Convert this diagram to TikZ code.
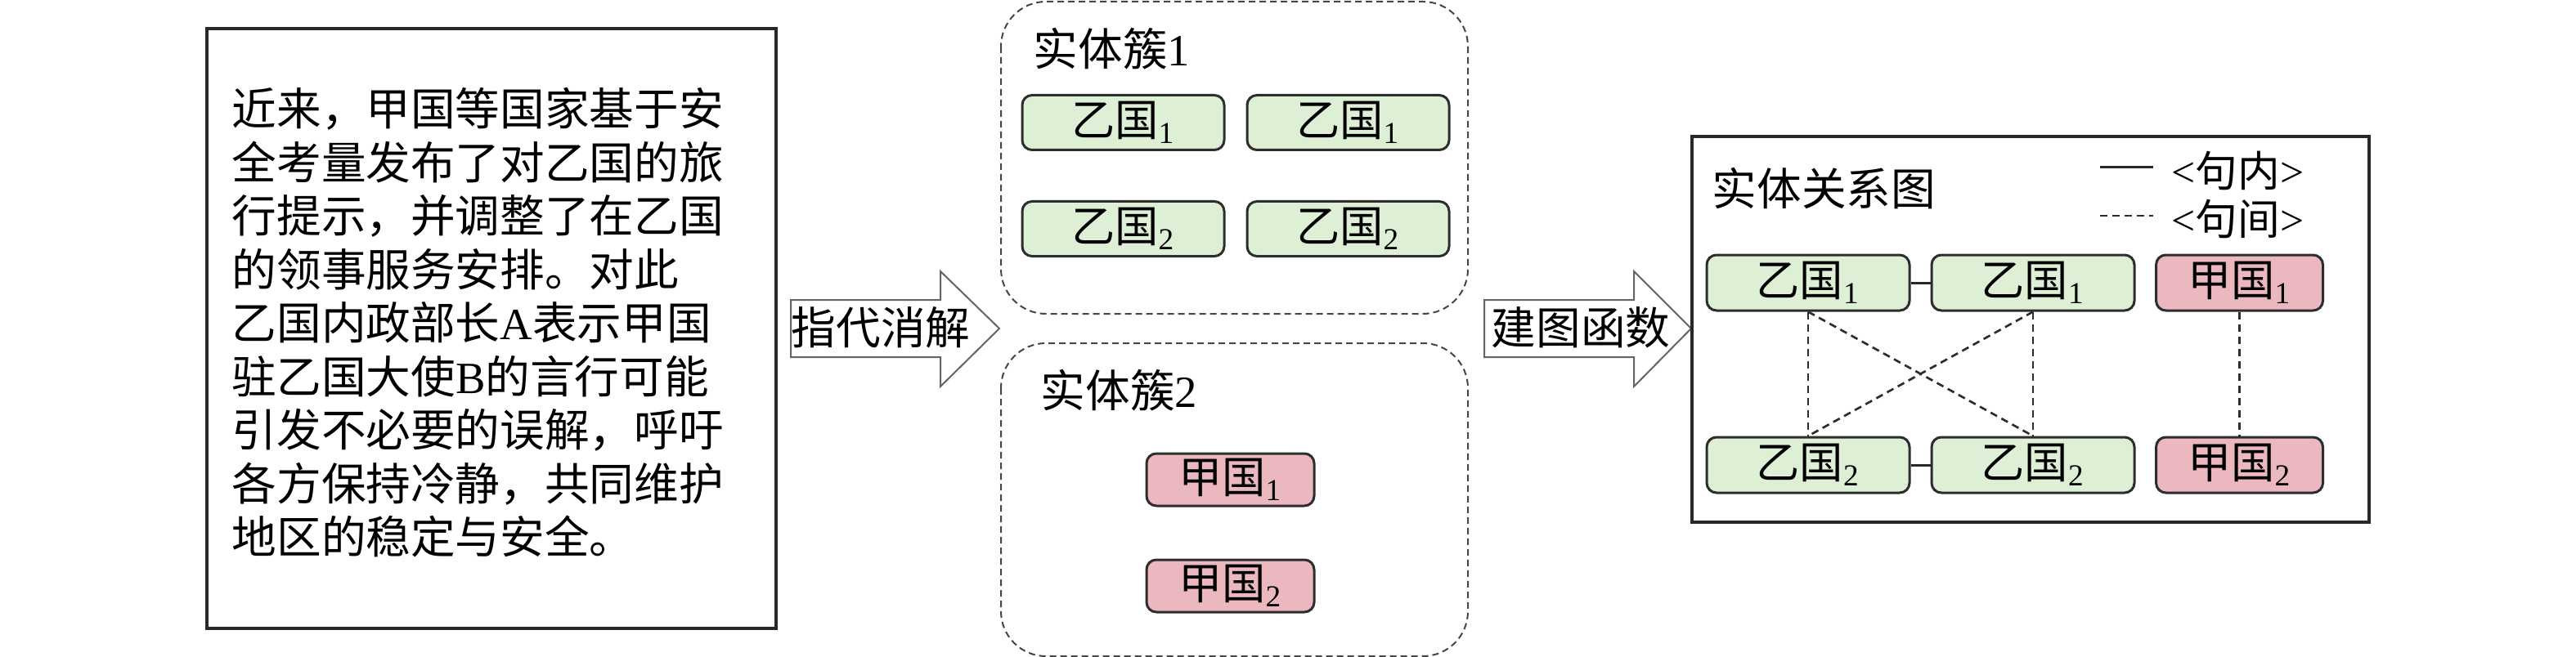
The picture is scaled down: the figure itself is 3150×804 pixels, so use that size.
\documentclass[tikz,border=0pt]{standalone}
\usepackage{fontspec}
\setmainfont{Noto Sans CJK SC}
\newfontfamily\tms{Liberation Serif}
\newcommand{\entlbl}[2]{#1\textsubscript{\tms #2}}
\tikzset{
	box line/.style={draw={rgb, 255:red, 40; green, 40; blue, 40 }, line width=1.2pt},
	cluster line/.style={draw={rgb, 255:red, 70; green, 70; blue, 70 }, line width=0.6pt, dash pattern=on 2.4pt off 1.5pt, rounded corners=16.5pt},
	big arrow/.style={draw={rgb, 255:red, 100; green, 100; blue, 100 }, line width=0.6pt, fill=white},
	body text/.style={font=\fontsize{16.4}{19.65}\selectfont, inner sep=0pt},
	legend text/.style={font=\fontsize{15.5}{17}\selectfont, inner sep=0pt},
	ent yi/.style={draw={rgb, 255:red, 45; green, 45; blue, 45 }, line width=0.9pt, rounded corners=3.6pt, fill={rgb, 255:red, 221; green, 239; blue, 213 }, minimum width=74.1pt, minimum height=20.1pt, inner sep=0pt, font=\fontsize{16}{18}\selectfont},
	ent jia/.style={ent yi, fill={rgb, 255:red, 234; green, 184; blue, 190 }, minimum width=61.5pt, minimum height=19.2pt},
	intra/.style={draw={rgb, 255:red, 40; green, 40; blue, 40 }, line width=0.9pt},
	inter/.style={draw={rgb, 255:red, 45; green, 45; blue, 45 }, line width=0.8pt, dash pattern=on 2.7pt off 1.8pt}
}

\begin{document}
\begin{tikzpicture}[x=0.3pt,y=0.3pt,yscale=-1,xscale=1]
	\useasboundingbox (0,0) rectangle (3150,804);

	%Shape: Rectangle [source text]
	\draw [box line] (253,35) rectangle (949,769);
	% Text Node
	\draw (283,395) node [body text, anchor=west, align=left] (story) {近来，甲国等国家基于安\\全考量发布了对乙国的旅\\行提示，并调整了在乙国\\的领事服务安排。对此\\乙国内政部长{\tms A}表示甲国\\驻乙国大使{\tms B}的言行可能\\引发不必要的误解，呼吁\\各方保持冷静，共同维护\\地区的稳定与安全。};

	%Right Arrow [coreference]
	\draw [big arrow] (967,367) -- (1150,367) -- (1150,332) -- (1222,402) -- (1150,473) -- (1150,437) -- (967,437) -- cycle ;
	% Text Node
	\draw (1077,401) node [body text] (coref) {指代消解};

	%Shape: Rounded Rectangle [cluster 1]
	\draw [cluster line] (1224,2) rectangle (1795,384);
	% Text Node
	\draw (1263,60) node [body text, anchor=west] (clusterA) {实体簇{\tms 1}};
	\draw (1373.5,150) node [ent yi] (ca1) {\entlbl{乙国}{1}};
	\draw (1648.5,150) node [ent yi] (ca2) {\entlbl{乙国}{1}};
	\draw (1373.5,280) node [ent yi] (ca3) {\entlbl{乙国}{2}};
	\draw (1648.5,280) node [ent yi] (ca4) {\entlbl{乙国}{2}};

	%Shape: Rounded Rectangle [cluster 2]
	\draw [cluster line] (1224,420) rectangle (1795,803);
	% Text Node
	\draw (1272,478) node [body text, anchor=west] (clusterB) {实体簇{\tms 2}};
	\draw (1504.5,587) node [ent jia] (cb1) {\entlbl{甲国}{1}};
	\draw (1504.5,717) node [ent jia] (cb2) {\entlbl{甲国}{2}};

	%Right Arrow [graph building]
	\draw [big arrow] (1815,367) -- (1998,367) -- (1998,332) -- (2068,402) -- (1998,473) -- (1998,437) -- (1815,437) -- cycle ;
	% Text Node
	\draw (1933,401) node [body text] (build) {建图函数};

	%Shape: Rectangle [entity graph]
	\draw [box line] (2069,167) rectangle (2897,639);
	% Text Node
	\draw (2093,231) node [body text, anchor=west] (graphtitle) {实体关系图};

	% legend
	\coordinate (solidA) at (2568,205);
	\coordinate (solidB) at (2633,205);
	\coordinate (dashA) at (2568,264);
	\coordinate (dashB) at (2633,264);
	\draw [intra] (solidA) -- (solidB);
	\draw [inter] (dashA) -- (dashB);
	\draw (2655,209) node [legend text, anchor=west] (intralbl) {{\tms <}句内{\tms >}};
	\draw (2655,268) node [legend text, anchor=west] (interlbl) {{\tms <}句间{\tms >}};

	% graph nodes
	\draw (2211,346) node [ent yi, minimum width=74.4pt, minimum height=20.4pt] (g11) {\entlbl{乙国}{1}};
	\draw (2486,346) node [ent yi, minimum width=74.4pt, minimum height=20.4pt] (g12) {\entlbl{乙国}{1}};
	\draw (2738.5,346) node [ent jia, minimum width=61.2pt, minimum height=20.4pt] (g13) {\entlbl{甲国}{1}};
	\draw (2211,569) node [ent yi, minimum width=74.4pt, minimum height=20.4pt] (g21) {\entlbl{乙国}{2}};
	\draw (2486,569) node [ent yi, minimum width=74.4pt, minimum height=20.4pt] (g22) {\entlbl{乙国}{2}};
	\draw (2738.5,569) node [ent jia, minimum width=61.2pt, minimum height=20.4pt] (g23) {\entlbl{甲国}{2}};

	% graph edges
	\draw [intra] (g11) -- (g12);
	\draw [intra] (g21) -- (g22);
	\draw [inter] (g11.south) -- (g21.north);
	\draw [inter] (g12.south) -- (g22.north);
	\draw [inter] (g11.south) -- (g22.north);
	\draw [inter] (g12.south) -- (g21.north);
	\draw [inter] (g13.south) -- (g23.north);

\end{tikzpicture}
\end{document}
